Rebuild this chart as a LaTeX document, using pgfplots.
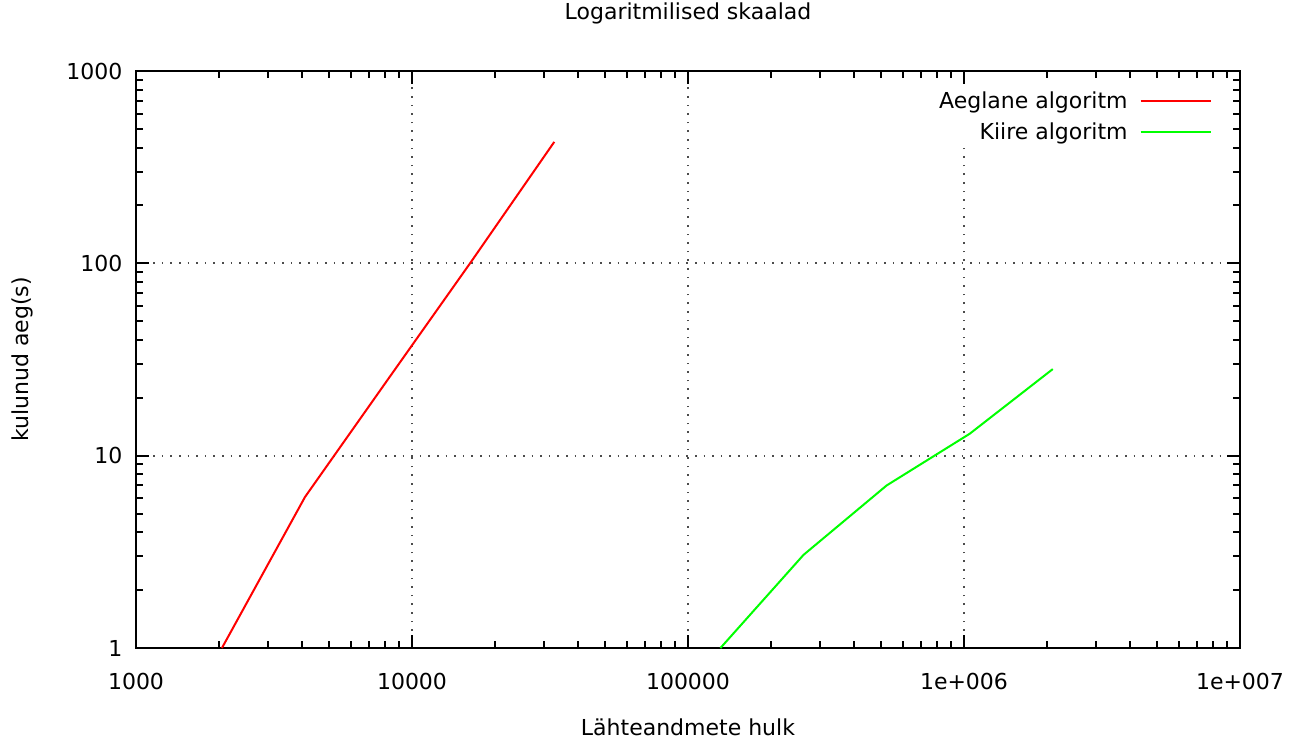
\documentclass[border=0pt]{standalone}
\usepackage{fontspec}
\setmainfont{DejaVu Sans}
\usepackage{pgfplots}
\pgfplotsset{compat=1.18}
\definecolor{gpred}{RGB}{255,0,0}
\definecolor{gpgreen}{RGB}{0,255,0}
\begin{document}
\fontsize{11pt}{13pt}\selectfont
\begin{tikzpicture}
\begin{axis}[
  name=ax,
  scale only axis, width=552pt, height=288.5pt,
  xmode=log, ymode=log,
  xmin=1000, xmax=1e7, ymin=1, ymax=1000,
  xtick={1000,10000,100000,1000000,10000000},
  xticklabels={1000,10000,100000,1e+006,1e+007},
  ytick={1,10,100,1000}, yticklabels={1,10,100,1000},
  minor xtick={2000,3000,4000,5000,6000,7000,8000,9000,20000,30000,40000,50000,60000,70000,80000,90000,200000,300000,400000,500000,600000,700000,800000,900000,2000000,3000000,4000000,5000000,6000000,7000000,8000000,9000000},
  minor ytick={2,3,4,5,6,7,8,9,20,30,40,50,60,70,80,90,200,300,400,500,600,700,800,900},
  grid=major,
  major grid style={black!70, line width=0.9pt, dash pattern=on 0.8pt off 3.5pt},
  axis line style={line width=1pt},
  every tick/.style={black, line width=1pt},
  major tick length=6.5pt, minor tick length=3.5pt,
  xticklabel style={yshift=-8.5pt},
  yticklabel style={xshift=-3pt},
  title={Logaritmilised skaalad},
  title style={at={(0.5,1)}, anchor=center, yshift=23pt},
  xlabel={Lähteandmete hulk},
  xlabel style={at={(0.5,0)}, anchor=center, yshift=-39.5pt},
  ylabel={kulunud aeg(s)},
  ylabel style={at={(0,0.5)}, anchor=center, yshift=57pt},
  legend plot pos=right,
  legend cell align=right,
  legend image code/.code={\draw[#1] (0pt,0pt) -- (35pt,0pt);},
  legend style={at={(1,1)}, anchor=north east, xshift=-13pt, yshift=-7pt,
    draw=none, fill=white, inner sep=1pt, row sep=1.5pt, column sep=4pt,
    font=\fontsize{11pt}{13pt}\selectfont},
]
\addplot[gpred, line width=1pt] coordinates {
  (2048,1) (4096,6.1) (8192,25) (16384,102) (32768,428)};
\addlegendentry{Aeglane algoritm}
\addplot[gpgreen, line width=1pt] coordinates {
  (131072,1) (262144,3.05) (524288,7.0) (1048576,13.0) (2097152,28.2)};
\addlegendentry{Kiire algoritm}
\end{axis}
\pgfresetboundingbox
\path[use as bounding box] ([shift={(-68pt,-47pt)}]ax.south west) rectangle ([shift={(27pt,35.5pt)}]ax.north east);
\end{tikzpicture}
\end{document}
